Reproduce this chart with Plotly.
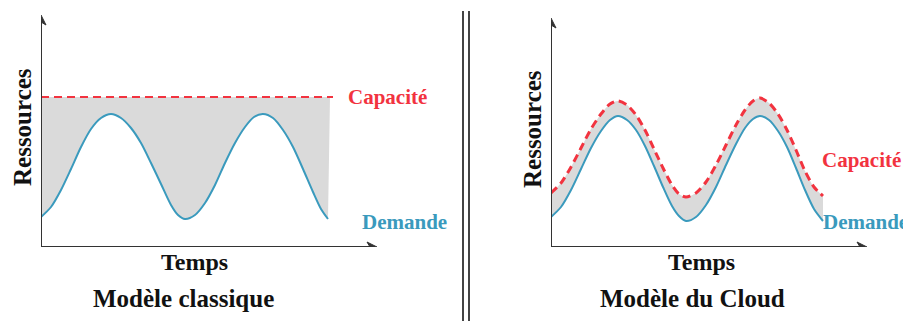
import plotly.graph_objects as go

# page body has an 8px default margin: shift everything by it
OFF = 8
W, H = 911 - OFF, 321 - OFF

# ---- data (y = resource level, x = time) ----
# Modèle classique
t_left = [0, 10, 20, 30, 40, 50, 60, 70, 80, 90, 100, 110, 120, 130, 137, 144,
          154, 164, 174, 184, 194, 204, 213, 222, 232, 242, 252, 262, 272, 280, 287]
demand_left = [30, 40, 57, 78, 100, 118, 129, 133, 129, 119, 104, 84, 63, 42, 32, 28,
               32, 44, 62, 84, 104, 120, 130, 133, 129, 117, 100, 78, 55, 38, 28]
cap_left_t = [0, 292]
cap_left = [150, 150]

# Modèle du Cloud
t_right = [0, 10, 20, 30, 40, 50, 59, 67, 76, 85, 94, 103, 112, 121, 128, 135,
           145, 155, 165, 175, 185, 194, 202, 209, 218, 227, 236, 245, 254, 263, 272]
demand_right = [30, 40, 57, 78, 99, 116, 127, 131, 127, 117, 101, 81, 60, 41, 31, 26,
                30, 42, 60, 82, 103, 119, 128, 131, 127, 116, 100, 79, 57, 38, 26]
cap_right = [54, 64, 80, 99, 118, 133, 143, 146, 142, 132, 117, 98, 79, 62, 53, 50,
             54, 65, 82, 102, 122, 137, 146, 149, 144, 133, 117, 97, 76, 60, 51]

RED = "#f2333f"
BLUE = "#3a9abd"
GREY = "#dadada"
AX = "#333333"


def px(x):
    return (x - OFF) / W


def py(y):
    return 1 - (y - OFF) / H


fig = go.Figure()

# left panel
fig.add_trace(go.Scatter(x=[0, 289], y=cap_left, mode="lines", line=dict(width=0),
                         xaxis="x", yaxis="y", showlegend=False, hoverinfo="skip"))
fig.add_trace(go.Scatter(x=t_left, y=demand_left, mode="lines", fill="tonexty", fillcolor=GREY,
                         line=dict(color=BLUE, width=2, shape="spline", smoothing=0.8),
                         xaxis="x", yaxis="y", showlegend=False))
fig.add_trace(go.Scatter(x=cap_left_t, y=cap_left, mode="lines",
                         line=dict(color=RED, width=2, dash="8px,5px"),
                         xaxis="x", yaxis="y", showlegend=False))

# right panel
fig.add_trace(go.Scatter(x=t_right, y=cap_right, mode="lines",
                         line=dict(width=0, shape="spline", smoothing=0.8),
                         xaxis="x2", yaxis="y2", showlegend=False, hoverinfo="skip"))
fig.add_trace(go.Scatter(x=t_right, y=demand_right, mode="lines", fill="tonexty", fillcolor=GREY,
                         line=dict(color=BLUE, width=2, shape="spline", smoothing=0.8),
                         xaxis="x2", yaxis="y2", showlegend=False))
fig.add_trace(go.Scatter(x=t_right, y=cap_right, mode="lines",
                         line=dict(color=RED, width=3, dash="8px,5px", shape="spline", smoothing=0.8),
                         xaxis="x2", yaxis="y2", showlegend=False))

ydom = [py(247), py(15)]
ax_common = dict(visible=False, showgrid=False, zeroline=False, fixedrange=True)
fig.update_layout(
    width=W, height=H, margin=dict(l=0, r=0, t=0, b=0),
    paper_bgcolor="white", plot_bgcolor="rgba(0,0,0,0)",
    xaxis=dict(domain=[px(41), px(377)], range=[0, 336], **ax_common),
    yaxis=dict(domain=ydom, range=[0, 232], **ax_common),
    xaxis2=dict(domain=[px(551), px(867)], range=[0, 316], **ax_common),
    yaxis2=dict(domain=ydom, range=[0, 232], **ax_common),
)

shapes = []
for xr, yr, xend, ytop in [("x", "y", 336, 232), ("x2", "y2", 316, 229)]:
    shapes.append(dict(type="line", xref=xr, yref=yr, x0=0, y0=0, x1=0, y1=ytop - 4,
                       line=dict(color=AX, width=2)))
    shapes.append(dict(type="line", xref=xr, yref=yr, x0=0, y0=0, x1=xend - 4, y1=0,
                       line=dict(color=AX, width=2)))
    shapes.append(dict(type="path", xref=xr, yref=yr,
                       path=f"M -5,{ytop-10} L 0,{ytop} L 5,{ytop-10} L 0,{ytop-7} Z",
                       fillcolor=AX, line=dict(color=AX, width=1)))
    shapes.append(dict(type="path", xref=xr, yref=yr,
                       path=f"M {xend-10},5 L {xend},0 L {xend-10},-5 L {xend-7},0 Z",
                       fillcolor=AX, line=dict(color=AX, width=1)))
# double separator
for xs in [463, 469]:
    shapes.append(dict(type="line", xref="paper", yref="paper", x0=px(xs), x1=px(xs),
                       y0=-0.1, y1=py(11), line=dict(color="#444444", width=2)))
fig.update_layout(shapes=shapes)

SERIF = "Liberation Serif"


def ann(text, x, y, size, color, family, angle=0, bold=True):
    fig.add_annotation(text=f"<b>{text}</b>" if bold else text, x=px(x), y=py(y),
                       xref="paper", yref="paper", showarrow=False, textangle=angle,
                       xanchor="center", yanchor="middle",
                       font=dict(size=size, color=color, family=family))


ann("Capacité", 387, 97, 21, RED, SERIF)
ann("Demande", 404, 222, 21, BLUE, SERIF)
ann("Ressources", 23, 127, 25, "#111111", SERIF, angle=-90)
ann("Temps", 194, 262, 24, "#111111", SERIF)
ann("Modèle classique", 183, 298, 25, "#111111", SERIF)

ann("Capacité", 861, 160, 21, RED, SERIF)
ann("Demande", 865, 222, 21, BLUE, SERIF)
ann("Ressources", 532, 129, 25, "#111111", SERIF, angle=-90)
ann("Temps", 701, 262, 24, "#111111", SERIF)
ann("Modèle du Cloud", 692, 298, 25, "#111111", SERIF)

fig.write_html("out.html")
